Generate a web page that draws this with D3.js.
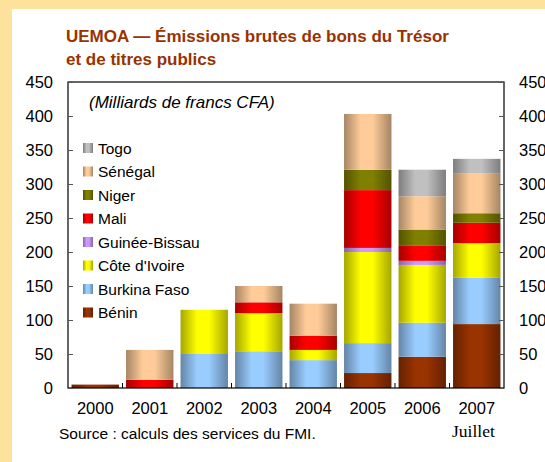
<!DOCTYPE html>
<html>
<head>
<meta charset="utf-8">
<script src="https://cdn.jsdelivr.net/npm/d3@7"></script>
<style>
  body { margin: 0; background: #fde29c; }
  svg { display: block; font-family: Arial, "Liberation Sans", sans-serif; }
</style>
</head>
<body>
<div id="chart"></div>
<script>
const years = ['2000', '2001', '2002', '2003', '2004', '2005', '2006', '2007'];
const countries = ['Bénin', 'Burkina Faso', "Côte d'Ivoire", 'Guinée-Bissau', 'Mali', 'Niger', 'Sénégal', 'Togo'];
const colors = ['#993300', '#99ccff', '#ffff00', '#cc99ff', '#ff0000', '#808000', '#ffcc99', '#c0c0c0'];

const benin    = [5, 0, 0, 0, 0, 22, 46, 94];
const burkina  = [0, 0, 50, 54, 41, 44, 50, 68];
const civ      = [0, 0, 65, 56, 15, 134, 85, 51];
const guinee   = [0, 0, 0, 0, 0, 6, 6, 0];
const mali     = [0, 12, 0, 16, 21, 85, 22, 30];
const niger    = [0, 0, 0, 0, 0, 30, 24, 14];
const senegal  = [0, 44, 0, 24, 47, 82, 49, 59];
const togo     = [0, 0, 0, 0, 0, 0, 39, 21];

const yTicks = [0, 50, 100, 150, 200, 250, 300, 350, 400, 450];

const series = [benin, burkina, civ, guinee, mali, niger, senegal, togo];
const rows = years.map((y, i) => {
    const r = { year: y };
    countries.forEach((c, j) => { r[c] = series[j][i]; });
    return r;
});

const W = 545, H = 462;
const plot = { left: 68, right: 504, top: 82, bottom: 388 };

const svg = d3.select('#chart').append('svg').attr('width', W).attr('height', H);

// panneau blanc
svg.append('rect').attr('x', 12).attr('y', 9).attr('width', W - 12).attr('height', H - 9).attr('fill', '#fff');

const defs = svg.append('defs');
colors.forEach((c, i) => {
    const dark = d3.color(c).darker(1.2);
    const g = defs.append('linearGradient').attr('id', 'grad' + i).attr('x1', '0%').attr('x2', '100%').attr('y1', '0%').attr('y2', '0%');
    g.append('stop').attr('offset', '0%').attr('stop-color', dark);
    g.append('stop').attr('offset', '35%').attr('stop-color', c);
    g.append('stop').attr('offset', '60%').attr('stop-color', c);
    g.append('stop').attr('offset', '100%').attr('stop-color', dark);
});

const x = d3.scaleBand().domain(years).range([plot.left, plot.right]).paddingInner(0.13).paddingOuter(0.065);
const xCat = d3.scaleBand().domain(years).range([plot.left, plot.right]);
const y = d3.scaleLinear().domain([0, 450]).range([plot.bottom, plot.top]);

// titre
const title = svg.append('text').attr('x', 66).attr('y', 42).attr('fill', '#993300')
    .style('font-size', '17px').style('font-weight', 'bold');
title.append('tspan').attr('x', 66).text('UEMOA — Émissions brutes de bons du Trésor');
title.append('tspan').attr('x', 66).attr('dy', 23).text('et de titres publics');

// barres empilées
const stacked = d3.stack().keys(countries)(rows);
stacked.forEach((layer, i) => {
    svg.append('g').attr('fill', `url(#grad${i})`)
        .selectAll('rect')
        .data(layer.filter(d => d[1] - d[0] > 0))
        .join('rect')
        .attr('x', d => x(d.data.year))
        .attr('width', x.bandwidth())
        .attr('y', d => y(d[1]))
        .attr('height', d => y(d[0]) - y(d[1]));
});

// cadre
svg.append('rect').attr('x', plot.left).attr('y', plot.top)
    .attr('width', plot.right - plot.left).attr('height', plot.bottom - plot.top)
    .attr('fill', 'none').attr('stroke', '#000').attr('stroke-width', 1.2);

// axes
const leftAxis = svg.append('g').attr('transform', `translate(${plot.left},0)`)
    .call(d3.axisLeft(y).tickValues(yTicks).tickSize(-5).tickPadding(15));
const rightAxis = svg.append('g').attr('transform', `translate(${plot.right},0)`)
    .call(d3.axisRight(y).tickValues(yTicks).tickSize(-5).tickPadding(15));
[leftAxis, rightAxis].forEach(a => {
    a.select('.domain').remove();
    a.selectAll('line').attr('stroke', '#555');
    a.selectAll('text').style('font-size', '16.5px').attr('fill', '#000').attr('font-family', 'Arial, "Liberation Sans", sans-serif');
});

const bottomAxis = svg.append('g').attr('transform', `translate(0,${plot.bottom})`)
    .call(d3.axisBottom(xCat).tickSize(0).tickPadding(14));
bottomAxis.select('.domain').remove();
bottomAxis.selectAll('text').style('font-size', '16.5px').attr('fill', '#000').attr('font-family', 'Arial, "Liberation Sans", sans-serif');
svg.append('g').selectAll('line')
    .data(years.slice(1))
    .join('line')
    .attr('x1', d => xCat(d)).attr('x2', d => xCat(d))
    .attr('y1', plot.bottom).attr('y2', plot.bottom - 5)
    .attr('stroke', '#000');

// unité
svg.append('text').attr('x', 89).attr('y', 108).style('font-size', '17px').style('font-style', 'italic')
    .text('(Milliards de francs CFA)');

// légende
const legend = svg.append('g').attr('transform', 'translate(83,148)');
countries.slice().reverse().forEach((c, k) => {
    const i = countries.length - 1 - k;
    const row = legend.append('g').attr('transform', `translate(0,${k * 23.5})`);
    row.append('rect').attr('x', 0).attr('y', -5).attr('width', 10).attr('height', 10).attr('fill', `url(#grad${i})`);
    row.append('text').attr('x', 15).attr('y', 5.5).style('font-size', '15.5px').text(c);
});

// source
svg.append('text').attr('x', 59).attr('y', 439).style('font-size', '15.5px').text('Source : calculs des services du FMI.');
svg.append('text').attr('x', 452).attr('y', 437).style('font-size', '17.5px')
    .attr('font-family', '"Liberation Serif", "Times New Roman", serif').text('Juillet');
</script>
</body>
</html>
